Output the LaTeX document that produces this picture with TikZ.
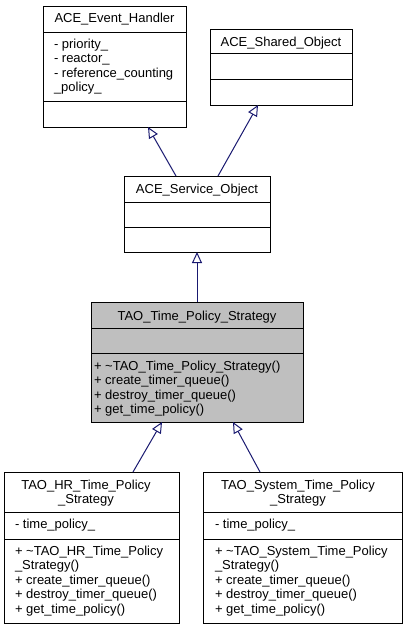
\documentclass[tikz,border=0pt]{standalone}
\usepackage{fontspec}
\setmainfont{Liberation Sans}
\usetikzlibrary{arrows.meta,calc}
\definecolor{edgeblue}{HTML}{191970}
\definecolor{boxgray}{HTML}{BFBFBF}
\tikzset{
  box/.style={draw=black, line width=1pt, rectangle, inner sep=0pt, outer sep=0pt, anchor=north west},
  sepline/.style={draw=black, line width=1pt},
  txt/.style={font=\fontsize{13}{14.5}\selectfont, inner sep=0pt, outer sep=0pt},
  ltxt/.style={txt, align=left, anchor=base west},
  ctxt/.style={txt, align=center, anchor=base},
  inherit/.style={draw=edgeblue, line width=1pt, -{Triangle[length=11pt,width=10pt,fill=white,line width=1pt]}}
}
\begin{document}
\begin{tikzpicture}[x=1pt,y=-1pt]
\useasboundingbox (0,0) rectangle (409,629);
% ACE_Event_Handler
\node[box, minimum width=143pt, minimum height=121pt] (eh) at (43,6) {};
\draw[sepline] (eh.west |- 0,32) -- (eh.east |- 0,32);
\draw[sepline] (eh.west |- 0,101) -- (eh.east |- 0,101);
\node[ctxt] (ehtitle) at (114.5,23) {ACE\_Event\_Handler};
% multi-line nodes: base anchor = baseline of last line
\node[ltxt] (ehattr) at (54,91.5) {- priority\_\\- reactor\_\\- reference\_counting\\\_policy\_};
% ACE_Shared_Object
\node[box, minimum width=142pt, minimum height=76pt] (so) at (210,29) {};
\draw[sepline] (so.west |- 0,53) -- (so.east |- 0,53);
\draw[sepline] (so.west |- 0,79) -- (so.east |- 0,79);
\node[ctxt] (sotitle) at (281,46) {ACE\_Shared\_Object};
% ACE_Service_Object
\node[box, minimum width=146pt, minimum height=76pt] (svc) at (124,176) {};
\draw[sepline] (svc.west |- 0,202) -- (svc.east |- 0,202);
\draw[sepline] (svc.west |- 0,227) -- (svc.east |- 0,227);
\node[ctxt] (svctitle) at (197,193) {ACE\_Service\_Object};
% TAO_Time_Policy_Strategy
\node[box, fill=boxgray, minimum width=212pt, minimum height=120pt] (tao) at (91,302) {};
\draw[sepline] (tao.west |- 0,328) -- (tao.east |- 0,328);
\draw[sepline] (tao.west |- 0,353) -- (tao.east |- 0,353);
\node[ctxt] (taotitle) at (197,320) {TAO\_Time\_Policy\_Strategy};
\node[ltxt] (taometh) at (94,413.5) {+ \textasciitilde TAO\_Time\_Policy\_Strategy()\\+ create\_timer\_queue()\\+ destroy\_timer\_queue()\\+ get\_time\_policy()};
% TAO_HR_Time_Policy_Strategy
\node[box, minimum width=175pt, minimum height=151pt] (hr) at (4,472) {};
\draw[sepline] (hr.west |- 0,512) -- (hr.east |- 0,512);
\draw[sepline] (hr.west |- 0,539) -- (hr.east |- 0,539);
\node[ctxt] (hrtitle) at (86,503.5) {TAO\_HR\_Time\_Policy\\\_Strategy};
\node[ltxt] (hrattr) at (15,528) {- time\_policy\_};
\node[ltxt] (hrmeth) at (15,613) {+ \textasciitilde TAO\_HR\_Time\_Policy\\\_Strategy()\\+ create\_timer\_queue()\\+ destroy\_timer\_queue()\\+ get\_time\_policy()};
% TAO_System_Time_Policy_Strategy
\node[box, minimum width=199pt, minimum height=151pt] (sys) at (203,472) {};
\draw[sepline] (sys.west |- 0,512) -- (sys.east |- 0,512);
\draw[sepline] (sys.west |- 0,539) -- (sys.east |- 0,539);
\node[ctxt] (systitle) at (298,503.5) {TAO\_System\_Time\_Policy\\\_Strategy};
\node[ltxt] (sysattr) at (215,528) {- time\_policy\_};
\node[ltxt] (sysmeth) at (215,613) {+ \textasciitilde TAO\_System\_Time\_Policy\\\_Strategy()\\+ create\_timer\_queue()\\+ destroy\_timer\_queue()\\+ get\_time\_policy()};
% inheritance
\draw[inherit] ($(svc.north west)+(52,0)$) -- ($(eh.south west)+(105,0)$);
\draw[inherit] ($(svc.north west)+(94,0)$) -- ($(so.south west)+(48,0)$);
\draw[inherit] (tao.north) -- (svc.south);
\draw[inherit] ($(hr.north west)+(129,0)$) -- ($(tao.south west)+(71,0)$);
\draw[inherit] ($(sys.north west)+(57,0)$) -- ($(tao.south west)+(142,0)$);
\end{tikzpicture}
\end{document}
